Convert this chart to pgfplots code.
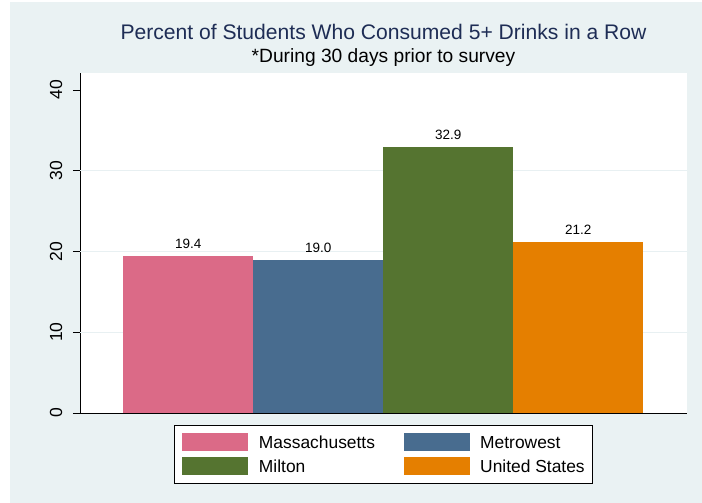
\documentclass[border=0pt]{standalone}
\usepackage{fontspec}
\setmainfont{Liberation Sans}
\usepackage{pgfplots}
\pgfplotsset{compat=1.18}
\definecolor{bgc}{RGB}{234,242,243}
\definecolor{gridc}{RGB}{232,240,242}
\definecolor{titlec}{RGB}{30,45,85}
\definecolor{cma}{RGB}{219,106,135}
\definecolor{cmw}{RGB}{72,108,143}
\definecolor{cmi}{RGB}{85,116,48}
\definecolor{cus}{RGB}{229,127,0}
\begin{document}
\begin{tikzpicture}[x=1pt,y=1pt]
\fill[bgc] (10,0) rectangle (702,501);
\useasboundingbox (0,0) rectangle (702,503);
\node[anchor=base, text=titlec, font=\fontsize{21.1}{24}\selectfont, inner sep=0pt] at (383.5,463) {Percent of Students Who Consumed 5+ Drinks in a Row};
\node[anchor=base, font=\fontsize{19.2}{22}\selectfont, inner sep=0pt] at (383.5,440) {*During 30 days prior to survey};
\begin{axis}[
  at={(80pt,90pt)}, anchor=south west,
  scale only axis, width=607pt, height=340pt,
  xmin=0.167, xmax=4.836, ymin=0, ymax=42.1,
  axis lines*=left,
  axis line style={black, line width=0.8pt},
  axis background/.style={fill=white},
  xtick=\empty,
  ytick={0,10,20,30,40},
  tick align=outside,
  major tick length=7pt,
  tick style={black, line width=0.8pt},
  /pgf/number format/assume math mode=true,
  yticklabel style={rotate=90, anchor=south, inner ysep=10.5pt, font=\fontsize{17.5}{20}\selectfont},
  extra y ticks={10,20,30},
  extra y tick labels={},
  extra y tick style={grid=major, major tick length=0pt},
  major grid style={gridc, line width=1pt},
  nodes near coords={\pgfmathprintnumber[fixed,fixed zerofill,precision=1]{\pgfplotspointmeta}},
  every node near coord/.append style={font=\fontsize{13.5}{16}\selectfont, inner sep=0pt, anchor=south, yshift=7pt, text=black},
  legend columns=2,
  legend style={at={(0.5,-0.0353)}, anchor=north, draw=black, line width=0.6pt, fill=white,
    inner xsep=7.7pt, inner ysep=7.7pt,
    font=\fontsize{17.4}{20}\selectfont,
    nodes={inner sep=0pt, anchor=base west},
    row sep=6.3pt, column sep=10.7pt,
    /tikz/every even column/.append style={column sep=28.5pt}},
  legend cell align=left,
]
\addplot[ybar, bar width=1, bar shift=0pt, fill=cma, draw=none,
  legend image code/.code={\fill[cma] (0pt,-2.7pt) rectangle (66pt,15.3pt);}] coordinates {(1,19.4)};
\addlegendentry{Massachusetts}
\addplot[ybar, bar width=1, bar shift=0pt, fill=cmw, draw=none,
  legend image code/.code={\fill[cmw] (0pt,-2.7pt) rectangle (66pt,15.3pt);}] coordinates {(2,19.0)};
\addlegendentry{Metrowest}
\addplot[ybar, bar width=1, bar shift=0pt, fill=cmi, draw=none,
  legend image code/.code={\fill[cmi] (0pt,-2.7pt) rectangle (66pt,15.3pt);}] coordinates {(3,32.9)};
\addlegendentry{Milton}
\addplot[ybar, bar width=1, bar shift=0pt, fill=cus, draw=none,
  legend image code/.code={\fill[cus] (0pt,-2.7pt) rectangle (66pt,15.3pt);}] coordinates {(4,21.2)};
\addlegendentry{United States}
\end{axis}
\end{tikzpicture}
\end{document}
